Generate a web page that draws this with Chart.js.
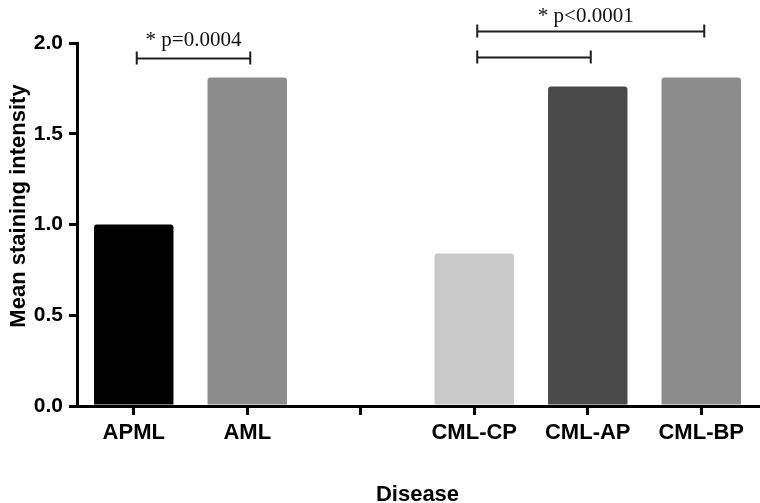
<!DOCTYPE html>
<html>
<head>
<meta charset="utf-8">
<script src="https://cdn.jsdelivr.net/npm/chart.js@4/dist/chart.umd.min.js"></script>
<style>
html,body{margin:0;padding:0;background:#fff;}
#wrap{width:760px;height:503px;position:relative;}
</style>
</head>
<body>
<div id="wrap"><canvas id="c" width="760" height="503"></canvas></div>
<script>
const categories = ['APML', 'AML', '', 'CML-CP', 'CML-AP', 'CML-BP'];
const meanIntensity = [1.0, 1.81, null, 0.84, 1.76, 1.81];
const barColors = ['#000000', '#8c8c8c', '#ffffff', '#c9c9c9', '#4a4a4a', '#8c8c8c'];
const yTicks = [0, 0.5, 1.0, 1.5, 2.0];
const xTitle = 'Disease';
const yTitle = 'Mean staining intensity';
// significance brackets: [fromIndex, toIndex, yValue]
const brackets = [[0, 1, 1.917], [3, 5, 2.068], [3, 4, 1.925]];
const sigLabels = [
  {text: '* p=0.0004', from: 0, to: 1, bracket: 0},
  {text: '* p<0.0001', from: 3, to: 5, bracket: 1}
];

const annot = {
  id: 'annot',
  afterDraw(chart) {
    const ctx = chart.ctx;
    const xs = chart.scales.x, ys = chart.scales.y;
    ctx.save();
    ctx.strokeStyle = '#1e1e1e';
    ctx.lineWidth = 2;
    const bY = [];
    brackets.forEach(([a, b, v]) => {
      const x1 = xs.getPixelForValue(a) + 3;
      const x2 = xs.getPixelForValue(b) + 3;
      const y = Math.round(ys.getPixelForValue(v)) + 0.5;
      bY.push(y);
      ctx.beginPath();
      ctx.moveTo(x1, y); ctx.lineTo(x2, y);
      ctx.moveTo(x1, y - 7); ctx.lineTo(x1, y + 6);
      ctx.moveTo(x2, y - 7); ctx.lineTo(x2, y + 6);
      ctx.stroke();
    });
    ctx.fillStyle = '#111';
    ctx.font = '21px "Liberation Serif", "Times New Roman", serif';
    ctx.textAlign = 'center';
    ctx.textBaseline = 'alphabetic';
    sigLabels.forEach((s, i) => {
      const xm = (xs.getPixelForValue(s.from) + xs.getPixelForValue(s.to)) / 2 + (i === 0 ? 3 : -2);
      const y = bY[s.bracket] - (i === 0 ? 13 : 10);
      ctx.fillText(s.text, xm, y);
    });
    // y axis title
    ctx.translate(19, 206);
    ctx.rotate(-Math.PI / 2);
    ctx.font = 'bold 22px "Liberation Sans", Arial, sans-serif';
    ctx.fillStyle = '#000';
    ctx.textBaseline = 'middle';
    ctx.fillText(yTitle, 0, 0);
    ctx.restore();
  }
};

new Chart(document.getElementById('c'), {
  type: 'bar',
  data: {
    labels: categories,
    datasets: [{
      data: meanIntensity,
      backgroundColor: barColors,
      borderWidth: 0,
      borderRadius: 3,
      barPercentage: 0.7,
      categoryPercentage: 1.0
    }]
  },
  options: {
    responsive: false,
    animation: false,
    devicePixelRatio: 1,
    layout: {padding: {top: 43, right: 2, left: 0, bottom: 0}},
    plugins: {legend: {display: false}, tooltip: {enabled: false}},
    scales: {
      x: {
        offset: true,
        afterFit(s) { s.height = 97; },
        grid: {display: true, drawOnChartArea: false, drawTicks: true, tickLength: 9, lineWidth: 3, color: '#000', offset: false},
        border: {display: true, width: 3, color: '#000'},
        ticks: {color: '#000', padding: 5, font: {family: '"Liberation Sans", Arial, sans-serif', size: 22, weight: 'bold'}},
        title: {display: true, text: xTitle, color: '#000', padding: {top: 0, bottom: 0}, font: {family: '"Liberation Sans", Arial, sans-serif', size: 22, weight: 'bold', lineHeight: 0.75}}
      },
      y: {
        min: 0, max: 2.0,
        afterFit(s) { s.width = 77; },
        afterBuildTicks(s) { s.ticks = yTicks.map(v => ({value: v})); },
        grid: {display: true, drawOnChartArea: false, drawTicks: true, tickLength: 8, lineWidth: 3, color: '#000'},
        border: {display: true, width: 3, color: '#000'},
        ticks: {color: '#000', padding: 6, callback: v => v.toFixed(1), font: {family: '"Liberation Sans", Arial, sans-serif', size: 21, weight: 'bold'}}
      }
    }
  },
  plugins: [annot]
});
</script>
</body>
</html>
